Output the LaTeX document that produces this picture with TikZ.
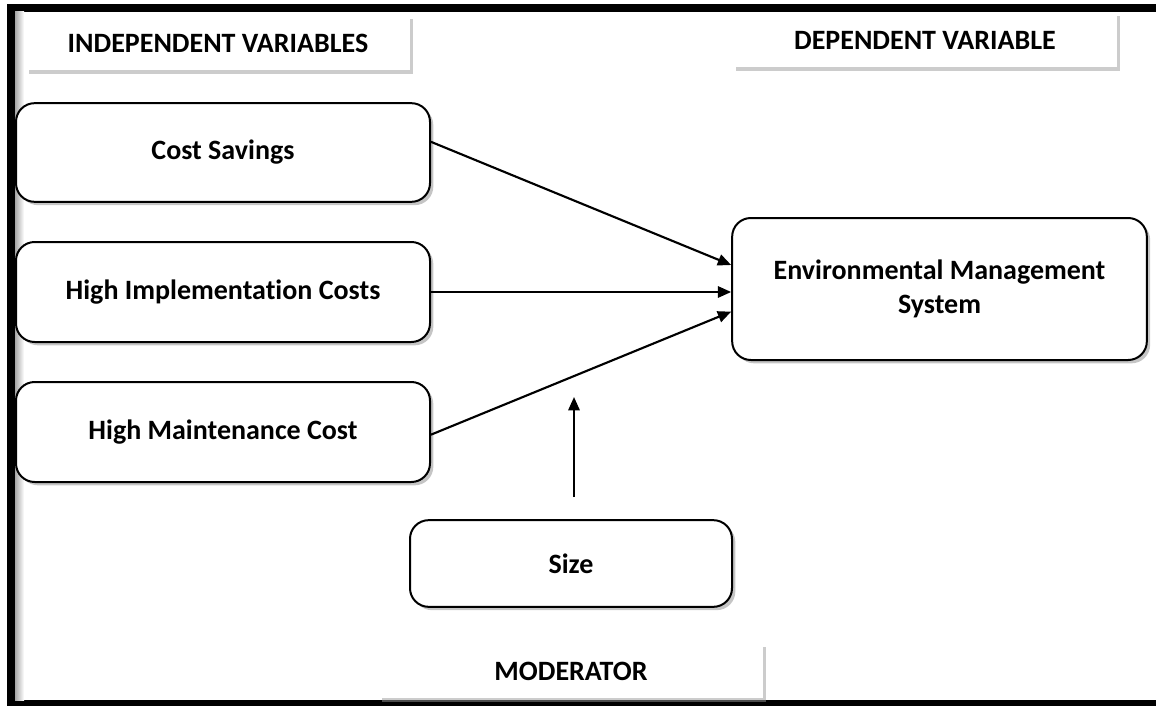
\documentclass[tikz,border=0pt]{standalone}
\usepackage{fontspec}
\setmainfont[Ligatures=NoCommon]{Carlito}
\usetikzlibrary{arrows.meta,shadows}

\tikzset{
    varbox/.style={draw,line width=1.5pt,rounded corners=14pt,fill=white,
        font=\fontsize{21}{25.5}\selectfont\bfseries,align=center,
        drop shadow={shadow xshift=2.5pt,shadow yshift=-2.5pt,fill=black!45}},
    headbox/.style={fill=white,font=\fontsize{21}{24}\selectfont\bfseries,
        minimum height=41pt,minimum width=288pt,
        drop shadow={shadow xshift=2.5pt,shadow yshift=-2.5pt,fill=black!40}},
    link/.style={line width=1.6pt,-{Triangle[length=10pt,width=8.5pt]}}
}

\begin{document}
\begin{tikzpicture}[x=0.75pt,y=0.75pt,yscale=-1,xscale=1]
            \useasboundingbox (0,0) rectangle (1156,706);
            % frame
            \fill (7,4) rectangle (1156,12);
            \fill (7,4) rectangle (15,706);
            \fill (7,700) rectangle (1156,706);
            \shade[left color=black!35,right color=white] (15,12) rectangle (24,700);

            \node[headbox] (indep) at (218,43) {INDEPENDENT VARIABLES};
            \node[headbox] (dep) at (925,40) {DEPENDENT VARIABLE};
            \node[headbox] (moder) at (571,671) {MODERATOR};

            \node[varbox,minimum width=310.5pt,minimum height=74pt] (cost) at (223,152.5) {Cost Savings};
            \node[varbox,minimum width=310.5pt,minimum height=75pt] (impl) at (223,292) {High Implementation Costs};
            \node[varbox,minimum width=310.5pt,minimum height=75pt] (maint) at (223,432) {High Maintenance Cost};
            \node[varbox,minimum width=311pt,minimum height=106.5pt] (ems) at (939.5,289) {Environmental Management\\System};
            \node[varbox,minimum width=241.5pt,minimum height=65pt] (size) at (571,563.5) {Size};

            \draw[link] ([yshift=-8pt]cost.east) -- ([yshift=-18pt]ems.west);
            \draw[link] (impl.east) -- (impl.east -| ems.west);
            \draw[link] ([yshift=2pt]maint.east) -- ([yshift=17pt]ems.west);

            \coordinate (modtail) at (574,497);
            \coordinate (modtip) at (574,397);
            \draw[link] (modtail) -- (modtip);
        \end{tikzpicture}
\end{document}
